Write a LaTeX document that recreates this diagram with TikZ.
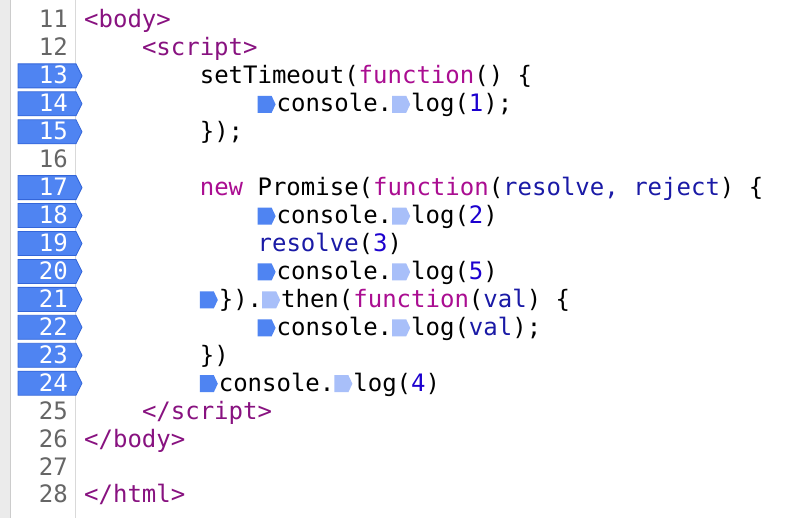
\documentclass[tikz,border=0pt]{standalone}
\usepackage{fontspec}
\setmonofont{DejaVu Sans Mono}
\definecolor{tagc}{HTML}{881280}
\definecolor{kwc}{HTML}{AA0D91}
\definecolor{nmc}{HTML}{1C00CF}
\definecolor{prc}{HTML}{1A1AA6}
\definecolor{bpfill}{HTML}{4F84F2}
\definecolor{bpdraw}{HTML}{3466D9}
\definecolor{bplight}{HTML}{A8BFF9}
\newcommand{\kw}[1]{\textcolor{kwc}{#1}}
\newcommand{\nm}[1]{\textcolor{nmc}{#1}}
\newcommand{\prm}[1]{\textcolor{prc}{#1}}
\newcommand{\tg}[1]{\textcolor{tagc}{#1}}
% inline breakpoint markers
\newcommand{\mk}{\tikz[baseline=0pt]\fill[bpfill] (0pt,-1pt) -- (14pt,-1pt) -- (18pt,7.5pt) -- (14pt,16pt) -- (0pt,16pt) -- cycle;\hspace{1pt}}
\newcommand{\mkl}{\tikz[baseline=0pt]\fill[bplight] (0pt,-1pt) -- (14pt,-1pt) -- (18pt,7.5pt) -- (14pt,16pt) -- (0pt,16pt) -- cycle;\hspace{1pt}}

\begin{document}
\begin{tikzpicture}[x=1pt,y=-1pt,
  code/.style={anchor=base west, inner sep=0pt, font=\fontsize{24}{24}\selectfont\ttfamily},
  lnum/.style={anchor=base east, inner sep=0pt, text=black!60, font=\fontsize{24}{24}\selectfont\ttfamily},
  bp/.style={fill=bpfill, draw=bpdraw, line width=0.8pt}]

  \useasboundingbox (0,0) rectangle (786,518);
  \fill[white] (0,0) rectangle (786,518);

  % gutter
  \fill[black!8] (0,0) rectangle (10,518);
  \draw[black!20] (10,0) -- (10,518);
  \draw[black!15] (75,0) -- (75,518);

  % breakpoints
  \foreach \l in {13,14,15,17,18,19,20,21,22,23,24}
    \draw[bp] (18,{28+(\l-11)*27.94-20}) -- (76,{28+(\l-11)*27.94-20})
      -- (82,{28+(\l-11)*27.94-8}) -- (76,{28+(\l-11)*27.94+4})
      -- (18,{28+(\l-11)*27.94+4}) -- cycle;

  % line numbers
  \foreach \l in {11,12,16,25,26,27,28}
    \node[lnum] (n\l) at (68,{28+(\l-11)*27.94}) {\l};
  \foreach \l in {13,14,15,17,18,19,20,21,22,23,24}
    \node[lnum, text=white] (n\l) at (68,{28+(\l-11)*27.94}) {\l};

  % code
  \node[code] (c11) at (84,28) {\tg{<body>}};
  \node[code] (c12) at (141.8,55.94) {\tg{<script>}};
  \node[code] (c13) at (199.6,83.88) {setTimeout(\kw{function}() \{};
  \node[code] (c14) at (257.4,111.82) {\mk console.\mkl log(\nm{1});};
  \node[code] (c15) at (199.6,139.76) {\});};
  \node[code] (c17) at (199.6,195.64) {\kw{new} Promise(\kw{function}(\prm{resolve, reject}) \{};
  \node[code] (c18) at (257.4,223.58) {\mk console.\mkl log(\nm{2})};
  \node[code] (c19) at (257.4,251.52) {\prm{resolve}(\nm{3})};
  \node[code] (c20) at (257.4,279.46) {\mk console.\mkl log(\nm{5})};
  \node[code] (c21) at (199.6,307.4) {\mk\}).\mkl then(\kw{function}(\prm{val}) \{};
  \node[code] (c22) at (257.4,335.34) {\mk console.\mkl log(\prm{val});};
  \node[code] (c23) at (199.6,363.28) {\})};
  \node[code] (c24) at (199.6,391.22) {\mk console.\mkl log(\nm{4})};
  \node[code] (c25) at (141.8,419.16) {\tg{</script>}};
  \node[code] (c26) at (84,447.1) {\tg{</body>}};
  \node[code] (c28) at (84,502.98) {\tg{</html>}};

\end{tikzpicture}
\end{document}
